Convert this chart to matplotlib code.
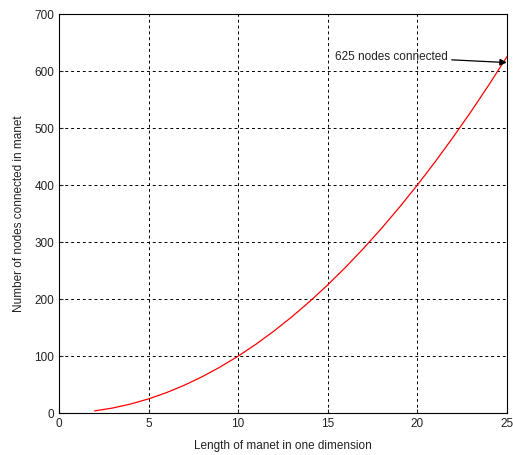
import matplotlib
matplotlib.use('Agg')
import matplotlib.pyplot as plt

# manet side length vs nodes connected
lengths = [2, 3, 4, 5, 6, 7, 8, 9, 10, 11, 12, 13, 14, 15, 16, 17, 18, 19, 20, 21, 22, 23, 24, 25]
nodes = [4, 9, 16, 25, 36, 49, 64, 81, 100, 121, 144, 169, 196, 225, 256, 289, 324, 361, 400, 441, 484, 529, 576, 625]
x_ticks = [0, 5, 10, 15, 20, 25]
y_ticks = [0, 100, 200, 300, 400, 500, 600, 700]

plt.rcParams['font.family'] = ['Liberation Sans', 'DejaVu Sans']

fig = plt.figure(figsize=(5.13, 4.55), dpi=100, facecolor='white')
ax = fig.add_axes([0.115, 0.092, 0.873, 0.877])

ax.plot(lengths, nodes, color='red', linewidth=0.9)

ax.set_xlim(0, 25)
ax.set_ylim(0, 700)
ax.set_xticks(x_ticks)
ax.set_yticks(y_ticks)
ax.tick_params(labelsize=8.5, direction='in', length=3, colors='#222222')
ax.grid(True, color='black', linestyle=(0, (3, 3)), linewidth=0.7)
for s in ax.spines.values():
    s.set_linewidth(0.8)

ax.set_xlabel("Length of manet in one dimension", fontsize=8.5, labelpad=7, color='#222222')
ax.set_ylabel("Number of nodes connected in manet", fontsize=8.5, labelpad=7, color='#222222')

ax.annotate("625 nodes connected", xy=(25, 615), xytext=(15.4, 625),
            fontsize=8.5, va='center', ha='left', color='#222222',
            arrowprops=dict(arrowstyle='-|>', color='black', lw=0.9, mutation_scale=10,
                            shrinkA=1, shrinkB=0))

fig.savefig('out.png', dpi=100)
